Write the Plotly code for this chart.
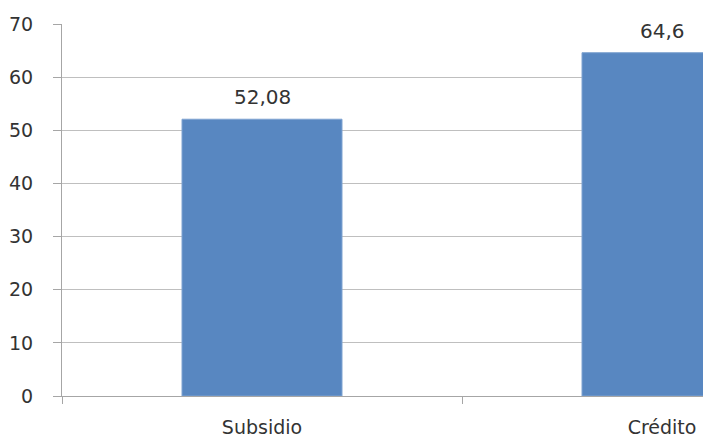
import plotly.graph_objects as go

categories = ["Subsidio", "Crédito"]
values = [52.08, 64.6]
y_ticks = [0, 10, 20, 30, 40, 50, 60, 70]

positions = list(range(len(categories)))
label_texts = [f"{v:g}".replace(".", ",") for v in values]

FONT = "DejaVu Sans"

fig = go.Figure()
fig.add_trace(go.Bar(
    x=positions, y=values, width=0.4,
    marker=dict(color="#5887c1", line=dict(color="#7fa3d1", width=1)),
    hoverinfo="skip",
))

for p, v, t in zip(positions, values, label_texts):
    fig.add_annotation(x=p, y=v, text=t, showarrow=False, yanchor="middle",
                       yshift=22, font=dict(family=FONT, size=20, color="#333333"))

fig.update_layout(
    width=703, height=440,
    margin=dict(l=62, r=0, t=24, b=44, autoexpand=False),
    paper_bgcolor="white", plot_bgcolor="white",
    showlegend=False,
    separators=", ",
    font=dict(family=FONT, size=19, color="#333333"),
)
fig.update_xaxes(
    type="linear", range=[-0.5, -0.5 + 641 / 400], automargin=False,
    tickmode="array", tickvals=positions, ticktext=categories,
    ticks="", ticklabelstandoff=14,
    showgrid=False, zeroline=False,
    showline=True, linecolor="#a6a6a6", linewidth=1,
    minor=dict(tickmode="array", tickvals=[-0.5, 0.5, 1.5], ticks="outside",
               ticklen=7, tickcolor="#a6a6a6", tickwidth=1, showgrid=False),
)
fig.update_yaxes(
    range=[0, 70], tickmode="array", tickvals=y_ticks, automargin=False,
    ticks="outside", ticklen=8, tickcolor="#a6a6a6", tickwidth=1,
    ticklabelstandoff=16,
    showgrid=True, gridcolor="#bfbfbf", gridwidth=1,
    zeroline=False, showline=True, linecolor="#a6a6a6", linewidth=1,
)

fig.write_html(
    "out.html",
    config={"displayModeBar": False},
    post_script="document.body.style.margin='0';document.body.style.overflow='hidden';",
)
